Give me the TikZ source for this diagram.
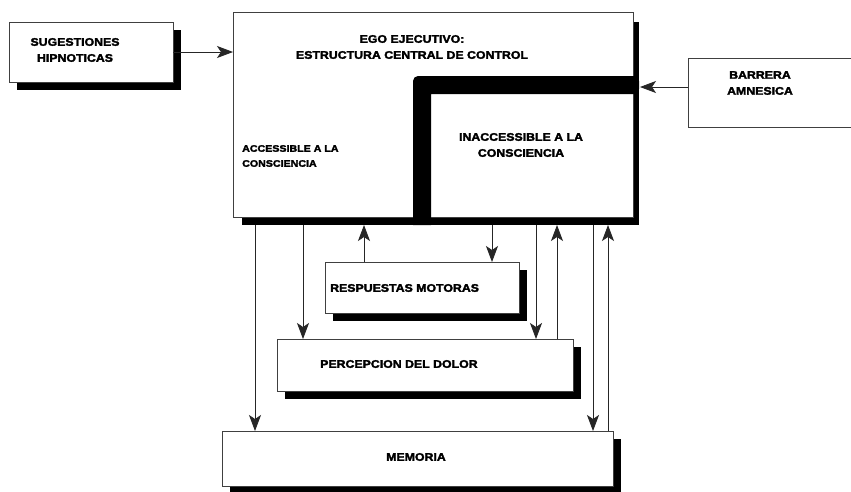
\documentclass[tikz,border=0pt]{standalone}
\usepackage{fontspec}
\newfontfamily\lbl[FakeStretch=1.12,FakeBold=2.5]{Liberation Sans Bold}
\usetikzlibrary{arrows.meta,shadows}
\tikzset{
  boxline/.style={draw=black!75, line width=0.9pt},
  box/.style={boxline, rectangle, fill=white, inner sep=0pt, outer sep=0pt, anchor=north west},
  area/.style={rectangle, inner sep=0pt, outer sep=0pt, anchor=north west},
  shad/.style={drop shadow={shadow xshift=8pt, shadow yshift=-8pt, fill=black, opacity=1}},
  lab/.style={font=\lbl\fontsize{11}{16}\selectfont, inner sep=0pt, align=center, text=black},
  labs/.style={font=\lbl\fontsize{9.5}{15}\selectfont, inner sep=0pt, align=left, text=black},
  arr/.style={draw=black!85, line width=0.8pt, -{Stealth[length=16pt,width=12pt,inset=4pt]}},
}
\begin{document}
\begin{tikzpicture}[x=1pt,y=-1pt]
\useasboundingbox[fill=white] (0,0) rectangle (851,491);

% main box with its heavy shadow and the inner L
\fill[black] (242,217) rectangle (639,225);
\fill[black] (633,22) rectangle (639,217);
\node[box, minimum width=400, minimum height=205] (ego) at (233,12) {};
\node[area, minimum width=202, minimum height=124] (inacc) at (431,93) {};
\fill[black, rounded corners=5pt] (413,225) -- (413,76) -- (639,76) -- (639,94) [sharp corners] -- (431,94) -- (431,225) -- cycle;

\node[lab] (egot) at (412,47) {EGO EJECUTIVO:\\ESTRUCTURA CENTRAL DE CONTROL};
\node[labs, anchor=west] (acct) at (242,156) {ACCESSIBLE A LA\\CONSCIENCIA};
\node[lab] (inacct) at (521,145) {INACCESSIBLE A LA\\CONSCIENCIA};

% side boxes
\node[box, shad, minimum width=164, minimum height=60] (sug) at (9,22) {};
\node[lab, text width=100] (sugt) at (75,50) {SUGESTIONES\\HIPNOTICAS};

\node[area, minimum width=163, minimum height=69] (barr) at (688,58) {};
\draw[boxline] (barr.north east) -- (barr.north west) -- (barr.south west) -- (barr.south east);
\node[lab] (barrt) at (760,83) {BARRERA\\AMNESICA};

% lower boxes
\node[box, shad, minimum width=194, minimum height=51] (resp) at (325,262) {};
\node[lab, anchor=west] (respt) at (330,288) {RESPUESTAS MOTORAS};
\node[box, shad, minimum width=296, minimum height=52] (perc) at (277,339) {};
\node[lab, anchor=west] (perct) at (320,364) {PERCEPCION DEL DOLOR};
\node[box, shad, minimum width=391, minimum height=55] (mem) at (222,431) {};
\node[lab] (memt) at (416,457) {MEMORIA};

% connectors
\draw[arr] (sug.east) -- (sug.east -| ego.west);
\coordinate (bt) at (640,87);
\draw[arr] (barr.west |- bt) -- (bt);

\coordinate (x1) at (255,225);
\coordinate (x2) at (303,225);
\coordinate (x3) at (364,225);
\coordinate (x4) at (492,225);
\coordinate (x5) at (536,225);
\coordinate (x6) at (557,225);
\coordinate (x7) at (593,225);
\coordinate (x8) at (608,225);
\draw[arr] (x1) -- (x1 |- mem.north);
\draw[arr] (x2) -- (x2 |- perc.north);
\draw[arr] (x3 |- resp.north) -- (x3);
\draw[arr] (x4) -- (x4 |- resp.north);
\draw[arr] (x5) -- (x5 |- perc.north);
\draw[arr] (x6 |- perc.north) -- (x6);
\draw[arr] (x7) -- (x7 |- mem.north);
\draw[arr] (x8 |- mem.north) -- (x8);
\end{tikzpicture}
\end{document}
